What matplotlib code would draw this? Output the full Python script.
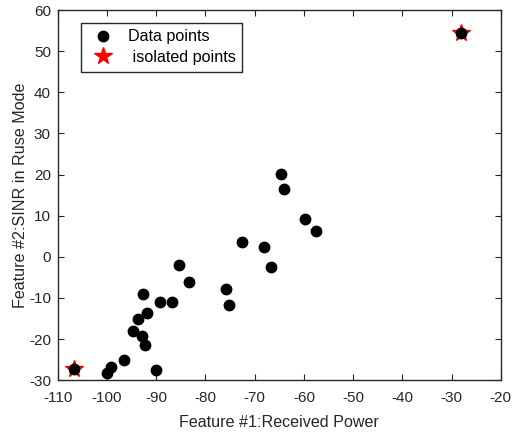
import matplotlib.pyplot as plt

plt.rcParams['font.family'] = ['Liberation Sans', 'DejaVu Sans']
plt.rcParams['axes.unicode_minus'] = False

# feature values
power = [-64.7, -64.0, -59.7, -57.6, -72.6, -68.2, -66.7, -85.4, -83.4, -75.8,
         -75.3, -92.7, -89.3, -86.8, -91.9, -93.8, -94.7, -92.8, -92.2, -96.6,
         -99.3, -100.1, -90.1, -106.7, -28.0]
sinr = [20.1, 16.4, 9.3, 6.2, 3.6, 2.3, -2.5, -1.9, -6.2, -7.9,
        -11.7, -9.0, -11.0, -11.0, -13.6, -15.1, -18.0, -19.2, -21.5, -25.1,
        -26.8, -28.3, -27.6, -27.3, 54.5]
iso_power = [-106.7, -28.0]
iso_sinr = [-27.3, 54.5]

fig = plt.figure(figsize=(5.12, 4.36), dpi=100)
ax = fig.add_axes([0.113, 0.128, 0.865, 0.849])

ax.plot(power, sinr, 'o', color='black', markersize=7.5, label='Data points', zorder=3)
ax.plot(iso_power, iso_sinr, '*', color='red', markersize=13, label=' isolated points', zorder=2)

ax.set_xlim(-110, -20)
ax.set_ylim(-30, 60)
ax.set_xticks(range(-110, -19, 10))
ax.set_yticks(range(-30, 61, 10))
ax.tick_params(direction='in', top=True, right=True, labelsize=11, colors='#262626', length=4.5)
ax.tick_params(axis='x', pad=8)
ax.tick_params(axis='y', pad=5)
for s in ax.spines.values():
    s.set_color('#262626')
    s.set_linewidth(1.0)

ax.set_xlabel('Feature #1:Received Power', fontsize=11.6, color='#262626', labelpad=7)
ax.set_ylabel('Feature #2:SINR in Ruse Mode', fontsize=11.6, color='#262626', labelpad=1)

leg = ax.legend(loc='upper left', bbox_to_anchor=(0.052, 0.965), borderaxespad=0, fontsize=11.6,
                fancybox=False, edgecolor='#262626', framealpha=1, handletextpad=0.5,
                borderpad=0.4, labelspacing=0.35)
leg.get_frame().set_linewidth(1.0)

fig.savefig('out.png', dpi=100)
